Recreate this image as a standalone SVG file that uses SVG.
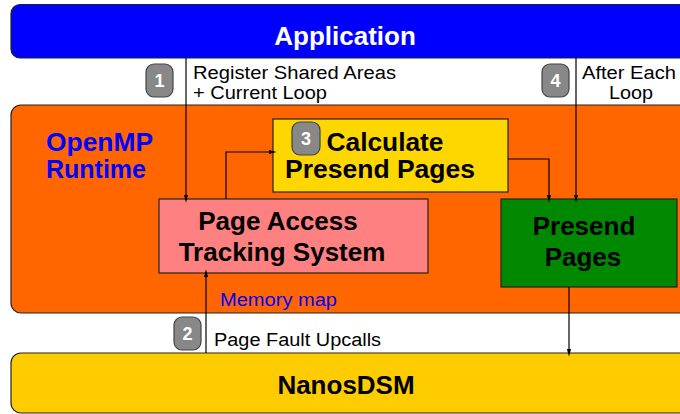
<svg xmlns="http://www.w3.org/2000/svg" width="680" height="414" viewBox="0 0 680 414">
  <style>
    .band { stroke: #222; stroke-width: 1.2; }
    .box { stroke: #222; stroke-width: 1.2; }
    .big { font-family: "Liberation Sans", Arial, sans-serif; font-weight: bold; font-size: 26px; }
    .mid { font-family: "Liberation Sans", Arial, sans-serif; font-weight: bold; font-size: 25px; }
    .lbl { font-family: "Liberation Sans", Arial, sans-serif; font-size: 18px; fill: #000; }
    .badge rect { fill: #888; stroke: #444; stroke-width: 1.2; }
    .badge text { font-family: "Liberation Sans", Arial, sans-serif; font-weight: bold; font-size: 18px; fill: #fff; text-anchor: middle; }
    .wire { fill: none; stroke: #000; stroke-width: 1.2; }
  </style>
  <defs>
    <marker id="arrow" markerWidth="8" markerHeight="15" refX="8" refY="4" orient="auto" markerUnits="userSpaceOnUse" viewBox="0 0 15 8">
      <path d="M0,0 L15,4 L0,8 Z" fill="#000"/>
    </marker>
  </defs>

  <rect x="0" y="0" width="680" height="414" fill="#fff"/>

  <!-- layer bands -->
  <g id="application">
    <rect class="band" x="11" y="4.5" width="700" height="53.5" rx="9" fill="#0000ff"/>
    <text class="big" x="345" y="45" text-anchor="middle" fill="#fff">Application</text>
  </g>

  <g id="runtime">
    <rect class="band" x="11" y="105" width="700" height="208" rx="10" fill="#ff6600"/>
    <text class="mid" x="46" y="151" fill="#0000ff" textLength="107" lengthAdjust="spacingAndGlyphs">OpenMP</text>
    <text class="mid" x="46" y="178" fill="#0000ff">Runtime</text>
  </g>

  <g id="nanosdsm">
    <rect class="band" x="11" y="353" width="700" height="60" rx="10" fill="#ffcc00"/>
    <text class="big" x="346" y="394" text-anchor="middle" fill="#000">NanosDSM</text>
  </g>

  <!-- runtime components -->
  <g id="calculate">
    <rect class="box" x="273" y="119" width="235" height="73" fill="#ffd700"/>
    <text class="mid" x="385" y="151" text-anchor="middle" fill="#000" textLength="117" lengthAdjust="spacingAndGlyphs">Calculate</text>
    <text class="mid" x="380" y="178" text-anchor="middle" fill="#000" textLength="190" lengthAdjust="spacingAndGlyphs">Presend Pages</text>
  </g>

  <g id="tracking">
    <rect class="box" x="159" y="199" width="269" height="74" fill="#ff8080"/>
    <text class="big" x="278" y="230" text-anchor="middle" fill="#000">Page Access</text>
    <text class="big" x="282" y="261" text-anchor="middle" fill="#000">Tracking System</text>
  </g>

  <g id="presend">
    <rect class="box" x="501" y="199" width="176" height="88" fill="#008800"/>
    <text class="big" x="584" y="235" text-anchor="middle" fill="#000">Presend</text>
    <text class="big" x="583" y="266" text-anchor="middle" fill="#000">Pages</text>
  </g>

  <!-- connectors -->
  <g id="connectors">
    <path class="wire" d="M186,58 V199" marker-end="url(#arrow)"/>
    <path class="wire" d="M576,58 V199" marker-end="url(#arrow)"/>
    <path class="wire" d="M226,199 V152 H273" marker-end="url(#arrow)"/>
    <path class="wire" d="M508,159 H549 V199" marker-end="url(#arrow)"/>
    <path class="wire" d="M206,353 V273" marker-end="url(#arrow)"/>
    <path class="wire" d="M569,287 V353" marker-end="url(#arrow)"/>
  </g>

  <!-- connector labels -->
  <g id="labels">
    <text class="lbl" x="193" y="79" textLength="203" lengthAdjust="spacingAndGlyphs">Register Shared Areas</text>
    <text class="lbl" x="193" y="99" textLength="134" lengthAdjust="spacingAndGlyphs">+ Current Loop</text>
    <text class="lbl" x="582" y="79" textLength="94" lengthAdjust="spacingAndGlyphs">After Each</text>
    <text class="lbl" x="609" y="99" textLength="44" lengthAdjust="spacingAndGlyphs">Loop</text>
    <text class="lbl" x="220" y="306" style="fill:#0000ff" textLength="117" lengthAdjust="spacingAndGlyphs">Memory map</text>
    <text class="lbl" x="214" y="346" textLength="167" lengthAdjust="spacingAndGlyphs">Page Fault Upcalls</text>
  </g>

  <!-- step badges -->
  <g id="badge1" class="badge">
    <rect x="146" y="64" width="27" height="33" rx="8"/>
    <text x="159.5" y="87">1</text>
  </g>
  <g id="badge2" class="badge">
    <rect x="174" y="317" width="27" height="33" rx="8"/>
    <text x="187.5" y="340">2</text>
  </g>
  <g id="badge3" class="badge">
    <rect x="292" y="122" width="28" height="33" rx="8"/>
    <text x="306" y="145">3</text>
  </g>
  <g id="badge4" class="badge">
    <rect x="542" y="64" width="27" height="33" rx="8"/>
    <text x="555.5" y="87">4</text>
  </g>
</svg>
